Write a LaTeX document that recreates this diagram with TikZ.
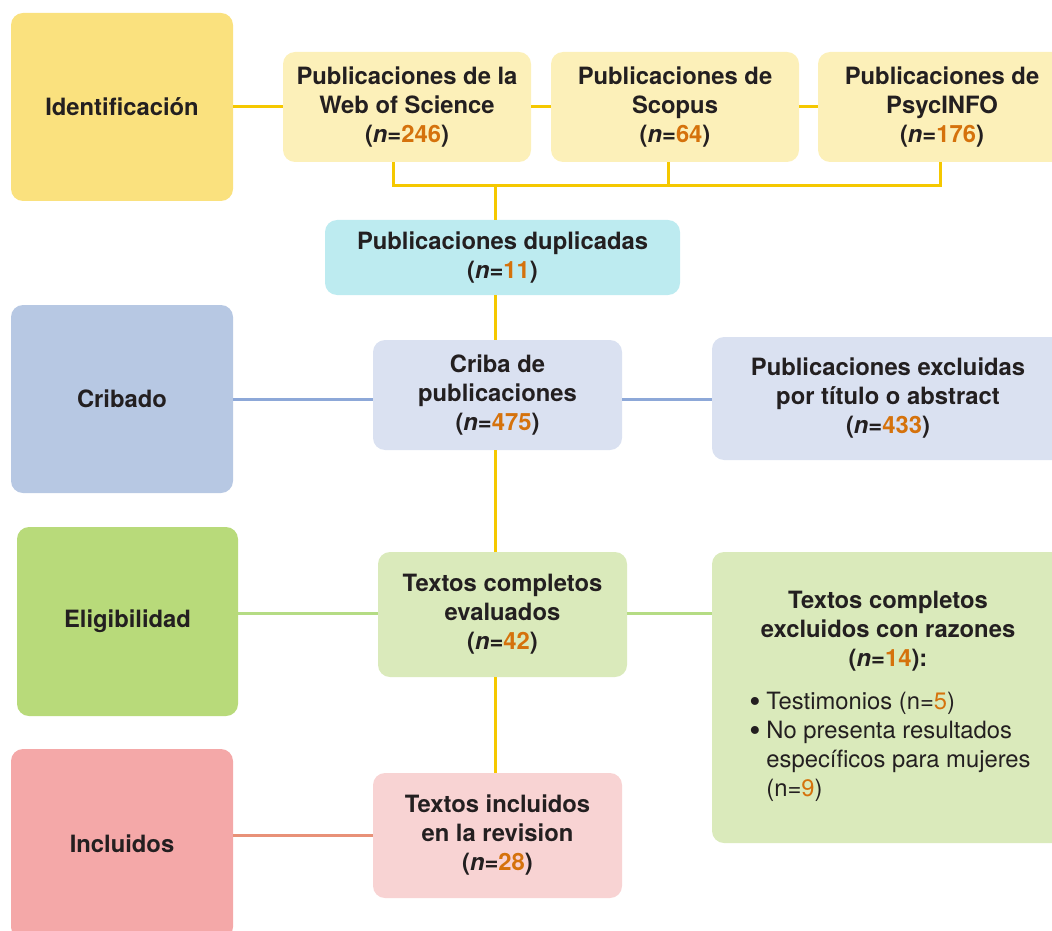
\documentclass[tikz,border=0pt]{standalone}
\usepackage{fontspec}
\setmainfont{TeX Gyre Heros}
\definecolor{txt}{HTML}{231F20}
\definecolor{num}{HTML}{D5720C}
\definecolor{yelA}{HTML}{FAE17E}
\definecolor{yelB}{HTML}{FCF0B9}
\definecolor{yelL}{HTML}{F5C800}
\definecolor{cyanB}{HTML}{BDEBF0}
\definecolor{bluA}{HTML}{B7C8E3}
\definecolor{bluB}{HTML}{DAE1F1}
\definecolor{bluL}{HTML}{8DA8D8}
\definecolor{grnA}{HTML}{B8DA7A}
\definecolor{grnB}{HTML}{DAEABB}
\definecolor{grnL}{HTML}{B5DC84}
\definecolor{redA}{HTML}{F4A8A8}
\definecolor{redB}{HTML}{F8D3D3}
\definecolor{redL}{HTML}{E89178}
\newcommand\nn[1]{(\textit{n}=\textcolor{num}{#1})}
\newcommand\bul{\makebox[8.5pt][l]{\raisebox{-1.4pt}{\fontsize{16}{14.5}\selectfont\textbullet}}}
\begin{document}
\begin{tikzpicture}[x=0.5pt,y=-0.5pt,
  every node/.style={text=txt, font=\fontsize{11.9}{14.5}\selectfont\bfseries},
  box/.style={rounded corners=6pt, inner sep=0pt, align=center, minimum width=124pt, minimum height=55pt},
  stage/.style={box, minimum width=111pt, minimum height=94pt},
  conn/.style={line width=1.5pt}]
\useasboundingbox (0,0) rectangle (1052,930);
\clip (0,0) rectangle (1052,930);

% stage boxes
\node[stage, fill=yelA] (ident) at (122,107) {Identificación};
\node[stage, fill=bluA] (crib) at (122,399) {Cribado};
\node[stage, fill=grnA, minimum width=110.5pt, minimum height=94.5pt] (elig) at (127.5,621.5) {Eligibilidad};
\node[stage, fill=redA, minimum height=95pt] (incl) at (122,844) {Incluidos};

% identification
\node[box, fill=yelB] (wos) at (407,107) {Publicaciones de la\\Web of Science\\\nn{246}};
\node[box, fill=yelB] (scop) at (675,107) {Publicaciones de\\Scopus\\\nn{64}};
\node[box, fill=yelB] (psyc) at (942,107) {Publicaciones de\\PsycINFO\\\nn{176}};
\node[box, fill=cyanB, minimum width=177.5pt, minimum height=37.5pt] (dup) at (502.5,257.5) {Publicaciones duplicadas\\\nn{11}};

% screening
\node[box, fill=bluB, minimum width=124.5pt] (criba) at (497.5,395) {Criba de\\publicaciones\\\nn{475}};
\node[box, fill=bluB, minimum width=176pt, minimum height=61.5pt] (excl) at (888,398.5) {Publicaciones excluidas\\por título o abstract\\\nn{433}};

% eligibility
\node[box, fill=grnB, minimum width=124.5pt, minimum height=62.5pt] (evalb) at (502.5,614.5) {Textos completos\\evaluados\\\nn{42}};
\node[box, fill=grnB, minimum width=176pt, minimum height=145.5pt] (raz) at (888,697.5) {};
\node[align=center, inner sep=0pt] (raztit) at (888,631) {Textos completos\\excluidos con razones\\\nn{14}:};
\node[align=left, anchor=north west, inner sep=0pt, font=\fontsize{11.9}{14.5}\selectfont\mdseries] (razlist) at (749,692)
  {\bul Testimonios (n=\textcolor{num}{5})\\
   \bul No presenta resultados\\
   \hspace*{8.5pt}específicos para mujeres\\
   \hspace*{8.5pt}(n=\textcolor{num}{9})};

% included
\node[box, fill=redB, minimum width=124.5pt, minimum height=62.5pt] (incb) at (497.5,835.5) {Textos incluidos\\en la revision\\\nn{28}};

% coordinates
\coordinate (b1) at (393,186);
\coordinate (b2) at (668,186);
\coordinate (b3) at (940,186);
\coordinate (j) at (495,186);
\coordinate (gl) at (0,613);

% connectors
\draw[conn, yelL] (ident) -- (wos);
\draw[conn, yelL] (wos) -- (scop);
\draw[conn, yelL] (scop) -- (psyc);
\draw[conn, yelL] (wos.south -| b1) -- (b1) -- (b3) -- (psyc.south -| b3);
\draw[conn, yelL] (scop.south -| b2) -- (b2);
\draw[conn, yelL] (j) -- (j |- dup.north);
\draw[conn, yelL] (dup.south -| j) -- (j |- criba.north);
\draw[conn, yelL] (criba.south -| j) -- (j |- evalb.north);
\draw[conn, yelL] (evalb.south -| j) -- (j |- incb.north);

\draw[conn, bluL] (crib.east) -- (crib.east -| criba.west);
\draw[conn, bluL] (crib.east -| criba.east) -- (crib.east -| excl.west);
\draw[conn, grnL] (gl -| elig.east) -- (gl -| evalb.west);
\draw[conn, grnL] (gl -| evalb.east) -- (gl -| raz.west);
\draw[conn, redL] (incb.west -| incl.east) -- (incb.west);
\end{tikzpicture}
\end{document}
